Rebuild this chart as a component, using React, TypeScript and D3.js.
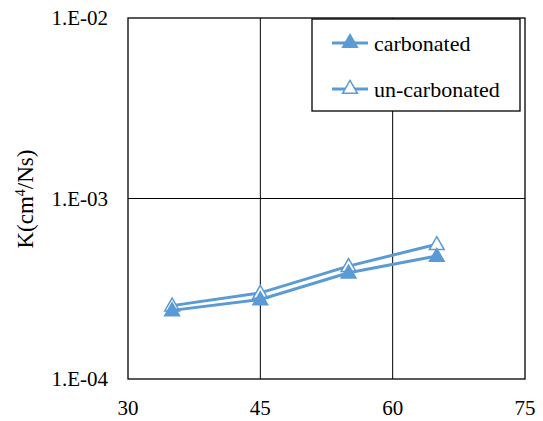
import React from "react";
import * as d3 from "d3";

// Temperature (°C) and permeability coefficient K (cm⁴/Ns)
const temperatures = [35, 45, 55, 65];
const carbonated = [2.4e-4, 2.76e-4, 3.88e-4, 4.8e-4];
const unCarbonated = [2.55e-4, 3.0e-4, 4.22e-4, 5.58e-4];
const xTicks = [30, 45, 60, 75];
const yTicks = [1e-4, 1e-3, 1e-2];
const yTickLabels = ["1.E-04", "1.E-03", "1.E-02"];

const W = 543;
const H = 421;
const M = { left: 128, right: 525, top: 18, bottom: 379 };
const COLOR = "#5B9BD5";
const FONT = "'Liberation Serif', 'Times New Roman', Times, serif";

const x = d3.scaleLinear().domain([30, 75]).range([M.left, M.right]);
const y = d3.scaleLog().domain([1e-4, 1e-2]).range([M.bottom, M.top]);

const tri = d3.symbol().type(d3.symbolTriangle).size(95);

function Series({ values, filled }: { values: number[]; filled: boolean }) {
  const line = d3
    .line<number>()
    .x((_, i) => x(temperatures[i]))
    .y((v) => y(v));
  return (
    <g>
      <path d={line(values) ?? ""} fill="none" stroke={COLOR} strokeWidth={3} />
      {values.map((v, i) => (
        <path
          key={i}
          d={tri() ?? ""}
          transform={`translate(${x(temperatures[i])},${y(v) + 1})`}
          fill={filled ? COLOR : "#fff"}
          stroke={COLOR}
          strokeWidth={1.5}
        />
      ))}
    </g>
  );
}

export default function App() {
  const legend = [
    { label: "carbonated", filled: true, cy: 43 },
    { label: "un-carbonated", filled: false, cy: 89 },
  ];
  const textStyle = { fontFamily: FONT };
  return (
    <svg
      width={W}
      height={H}
      style={{ position: "absolute", left: 0, top: 0, background: "#fff", fontFamily: FONT }}
    >
      {/* gridlines */}
      {xTicks.slice(1, -1).map((t) => (
        <line key={t} x1={x(t)} x2={x(t)} y1={M.top} y2={M.bottom} stroke="#000" strokeWidth={1} />
      ))}
      {yTicks.slice(1, -1).map((t) => (
        <line key={t} x1={M.left} x2={M.right} y1={y(t)} y2={y(t)} stroke="#000" strokeWidth={1} />
      ))}
      <rect
        x={M.left}
        y={M.top}
        width={M.right - M.left}
        height={M.bottom - M.top}
        fill="none"
        stroke="#000"
        strokeWidth={1.3}
      />

      {/* tick labels */}
      {yTicks.map((t, i) => (
        <text key={t} x={108} y={y(t)} dy="0.35em" textAnchor="end" fontSize={21} style={textStyle}>
          {yTickLabels[i]}
        </text>
      ))}
      {xTicks.map((t) => (
        <text key={t} x={x(t)} y={415} textAnchor="middle" fontSize={21} style={textStyle}>
          {t}
        </text>
      ))}

      {/* axis title */}
      <text transform="translate(33,199) rotate(-90)" textAnchor="middle" fontSize={23} style={textStyle}>
        K(cm<tspan dy={-8} fontSize={14}>4</tspan>
        <tspan dy={8}>/Ns)</tspan>
      </text>

      <Series values={unCarbonated} filled={false} />
      <Series values={carbonated} filled={true} />

      {/* legend */}
      <rect x={312} y={19} width={208} height={92} fill="#fff" stroke="#000" strokeWidth={1.3} />
      {legend.map((l) => (
        <g key={l.label}>
          <line x1={332} x2={368} y1={l.cy} y2={l.cy} stroke={COLOR} strokeWidth={3} />
          <path
            d={tri() ?? ""}
            transform={`translate(350,${l.cy})`}
            fill={l.filled ? COLOR : "#fff"}
            stroke={COLOR}
            strokeWidth={1.5}
          />
          <text x={374} y={l.cy} dy="0.35em" fontSize={22} style={textStyle}>
            {l.label}
          </text>
        </g>
      ))}
    </svg>
  );
}
